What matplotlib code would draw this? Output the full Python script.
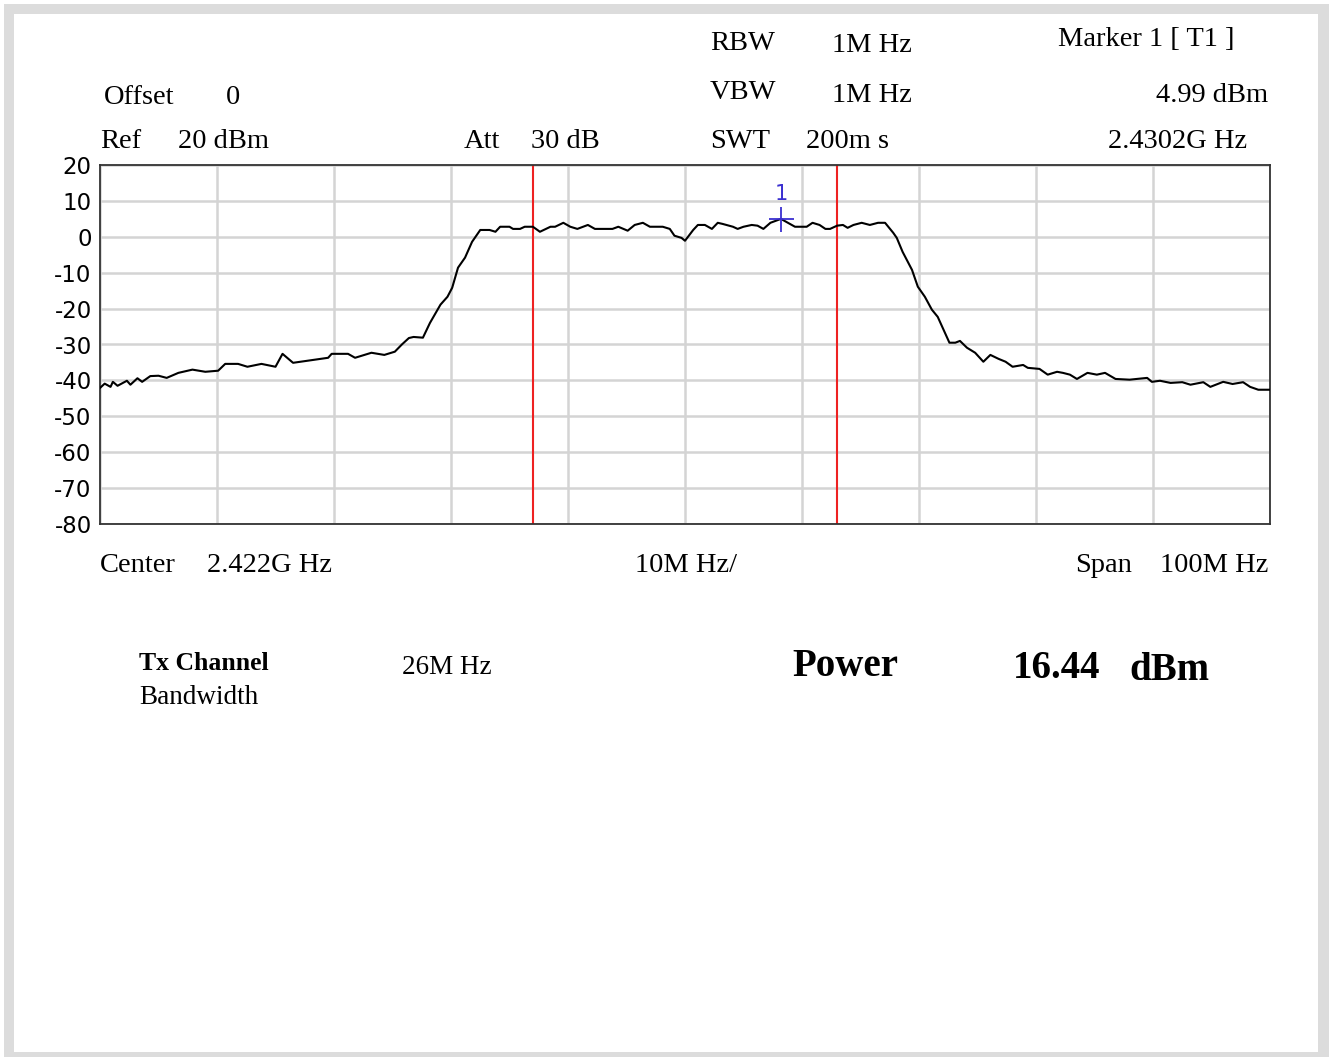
import matplotlib
matplotlib.use("Agg")
import matplotlib.pyplot as plt
import numpy as np
from matplotlib.patches import Rectangle

plt.rcParams['axes.unicode_minus'] = False

# trace: frequency (MHz) and level (dBm)
freq_mhz = [2372.0, 2372.4, 2372.9, 2373.1, 2373.5, 2374.3, 2374.6, 2375.2, 2375.6, 2376.3,
            2377.0, 2377.7, 2378.7, 2379.9, 2381.0, 2382.1, 2382.7, 2383.8, 2384.6, 2385.8,
            2387.0, 2387.6, 2388.5, 2389.8, 2391.5, 2391.8, 2393.2, 2393.8, 2395.2, 2396.3,
            2397.2, 2397.8, 2398.4, 2398.8, 2399.6, 2400.2, 2401.1, 2401.7, 2402.1, 2402.6,
            2403.2, 2403.8, 2404.5, 2405.3, 2405.8, 2406.2, 2407.0, 2407.3, 2407.9, 2408.3,
            2409.0, 2409.6, 2410.5, 2410.9, 2411.6, 2412.2, 2412.8, 2413.7, 2414.3, 2415.8,
            2416.3, 2417.1, 2417.7, 2418.4, 2419.0, 2420.1, 2420.7, 2421.1, 2421.7, 2422.0,
            2422.7, 2423.1, 2423.7, 2424.3, 2424.8, 2425.2, 2426.1, 2426.5, 2427.0, 2427.7,
            2428.2, 2428.7, 2429.3, 2430.2, 2430.8, 2431.4, 2432.4, 2432.9, 2433.5, 2434.0,
            2434.4, 2435.0, 2435.5, 2435.9, 2436.4, 2437.1, 2437.8, 2438.5, 2439.1, 2439.8,
            2440.1, 2440.6, 2441.4, 2441.9, 2442.5, 2443.1, 2443.6, 2444.1, 2444.6, 2445.1,
            2445.5, 2446.1, 2446.8, 2447.5, 2448.1, 2448.8, 2449.4, 2450.0, 2450.9, 2451.3,
            2452.3, 2453.0, 2453.8, 2454.3, 2454.9, 2455.5, 2456.4, 2457.2, 2457.9, 2458.8,
            2460.0, 2461.5, 2461.9, 2462.6, 2463.5, 2464.5, 2465.2, 2466.3, 2466.9, 2468.0,
            2468.8, 2469.7, 2470.3, 2471.0, 2472.0]
level_dbm = [-42.1, -40.9, -41.8, -40.4, -41.5, -40.1, -41.2, -39.4, -40.4, -38.8,
             -38.7, -39.3, -37.9, -37.0, -37.6, -37.3, -35.4, -35.4, -36.2, -35.4,
             -36.2, -32.6, -35.1, -34.5, -33.7, -32.6, -32.6, -33.7, -32.3, -32.9,
             -32.0, -30.0, -28.2, -27.9, -28.1, -24.0, -18.9, -16.7, -14.2, -8.6,
             -5.8, -1.4, 1.9, 1.9, 1.4, 2.8, 2.8, 2.2, 2.2, 2.8,
             2.8, 1.4, 2.8, 2.8, 3.9, 2.8, 2.2, 3.3, 2.2, 2.2,
             2.8, 1.7, 3.3, 3.9, 2.8, 2.8, 2.2, 0.3, -0.3, -1.1,
             1.9, 3.3, 3.3, 2.2, 3.9, 3.6, 2.8, 2.2, 2.8, 3.3,
             3.1, 2.2, 3.9, 4.99, 3.9, 2.8, 2.8, 3.9, 3.3, 2.2,
             2.2, 3.1, 3.3, 2.5, 3.3, 3.9, 3.3, 3.9, 3.9, 1.1,
             -0.3, -4.2, -9.2, -13.9, -16.7, -20.3, -22.3, -25.9, -29.5, -29.5,
             -29.0, -30.9, -32.3, -34.8, -32.9, -34.0, -34.8, -36.2, -35.7, -36.5,
             -36.8, -38.4, -37.6, -37.9, -38.4, -39.6, -37.9, -38.4, -37.9, -39.6,
             -39.8, -39.3, -40.4, -40.1, -40.7, -40.5, -41.2, -40.5, -41.8, -40.4,
             -41.0, -40.5, -41.8, -42.6, -42.6]

center_ghz = 2.422
span_ghz = 0.100
channel_edges_ghz = [2.409, 2.435]
marker_ghz = 2.4302
marker_dbm = 4.99
y_ticks = [20, 10, 0, -10, -20, -30, -40, -50, -60, -70, -80]

W, H = 1329, 1057
fig = plt.figure(figsize=(W / 100, H / 100), dpi=100)
fig.patch.set_facecolor('white')

# gray page frame
fig.patches.append(Rectangle((4 / W, 0), 1 - 4 / W, 1 - 4 / H, transform=fig.transFigure,
                             facecolor='#dcdcdc', edgecolor='none', zorder=-20))
fig.patches.append(Rectangle((14 / W, 5 / H), (1318 - 14) / W, (1052 - 14) / H,
                             transform=fig.transFigure, facecolor='white', edgecolor='none', zorder=-19))

ax = fig.add_axes([100 / W, 1 - 524 / H, 1170 / W, 359 / H])
ax.set_facecolor('white')
x = np.array(freq_mhz) / 1000.0
ax.plot(x, level_dbm, color='black', lw=1.5, zorder=3)
for f in channel_edges_ghz:
    ax.axvline(f, color='#ee2222', lw=1.5, zorder=2)
ax.plot(marker_ghz, marker_dbm, marker='+', ms=18, mew=1.3, color='#3a2fd0', zorder=4)
ax.text(marker_ghz, marker_dbm + 7, '1', color='#3a2fd0', ha='center', va='center',
        fontsize=15, family='DejaVu Sans')

xmin = center_ghz - span_ghz / 2
ax.set_xlim(xmin, xmin + span_ghz)
ax.set_ylim(-80, 20)
ax.set_xticks(np.linspace(xmin, xmin + span_ghz, 11))
ax.set_xticklabels([])
ax.set_yticks(y_ticks)
ax.set_yticklabels([str(v) for v in y_ticks], fontsize=16.5, family='DejaVu Sans')
ax.tick_params(length=0, pad=6)
ax.grid(True, color='#d4d4d4', lw=1.8)
ax.set_axisbelow(True)
for s in ax.spines.values():
    s.set_color('#333333')
    s.set_linewidth(1.3)


def put(px, py, s, size=20.5, weight='normal', ha='left'):
    fig.text(px / W, 1 - (py + 3) / H, s, fontsize=size, weight=weight, ha=ha, va='center',
             family='Liberation Serif')


put(710, 41, 'RBW')
put(832, 42, '1M Hz')
put(710, 90, 'VBW')
put(832, 92, '1M Hz')
put(710, 138, 'SWT')
put(806, 138, '200m s')
put(1058, 37, 'Marker 1 [ T1 ]')
put(1268, 92, '4.99 dBm', ha='right')
put(1247, 138, '2.4302G Hz', ha='right')
put(104, 94, 'Offset')
put(226, 94, '0')
put(100, 138, 'Ref')
put(178, 138, '20 dBm')
put(464, 138, 'Att')
put(531, 138, '30 dB')
put(100, 562, 'Center')
put(207, 563, '2.422G Hz')
put(635, 563, '10M Hz/')
put(1075, 562, 'Span')
put(1160, 563, '100M Hz')
put(139, 661, 'Tx Channel', size=18.5, weight='bold')
put(139, 694, 'Bandwidth', size=19.5)
put(402, 664, '26M Hz', size=19.5)
put(792, 664, 'Power', size=28, weight='bold')
put(1013, 666, '16.44', size=28, weight='bold')
put(1129, 668, 'dBm', size=28, weight='bold')

fig.savefig('out.png', dpi=100)
